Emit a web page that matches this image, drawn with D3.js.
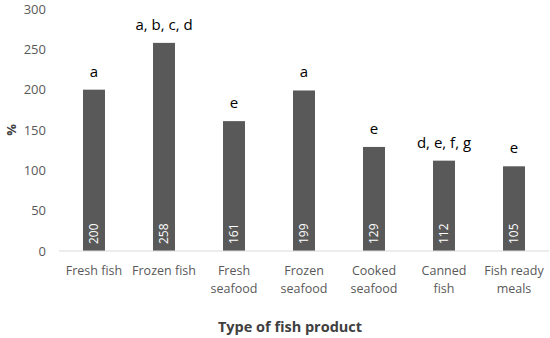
<!DOCTYPE html>
<html>
<head>
<meta charset="utf-8">
<script src="https://cdn.jsdelivr.net/npm/d3@7"></script>
<style>
  body { margin: 0; background: #fff; }
  text { font-family: "Open Sans", "Liberation Sans", sans-serif; }
</style>
</head>
<body>
<div id="graph"></div>
<script>
var categories = [
  ['Fresh fish'],
  ['Frozen fish'],
  ['Fresh', 'seafood'],
  ['Frozen', 'seafood'],
  ['Cooked', 'seafood'],
  ['Canned', 'fish'],
  ['Fish ready', 'meals']
]
var values = [200, 258, 161, 199, 129, 112, 105]
var letters = ['a', 'a, b, c, d', 'e', 'a', 'e', 'd, e, f, g', 'e']
var yTicks = [0, 50, 100, 150, 200, 250, 300]

var width = 550, height = 338

var svg = d3.select('#graph').append('svg')
    .attr('width', width)
    .attr('height', height)

var x = d3.scaleBand()
    .domain(d3.range(values.length))
    .range([59, 549])
    .paddingInner(0.686)
    .paddingOuter(0.343)

var y = d3.scaleLinear()
    .domain([0, 300])
    .range([251, 9])

// no gridlines, just tick labels
svg.append('g').selectAll('text')
    .data(yTicks)
  .join('text')
    .attr('x', 46)
    .attr('y', y)
    .attr('dy', '0.35em')
    .attr('text-anchor', 'end')
    .attr('fill', '#595959')
    .style('font-size', '13px')
    .text(function(d){ return d })

svg.append('text')
    .attr('transform', 'translate(16,' + y(150) + ') rotate(-90)')
    .attr('text-anchor', 'middle')
    .attr('fill', '#404040')
    .style('font-size', '13px')
    .style('font-weight', 'bold')
    .text('%')

var bars = svg.append('g').selectAll('g')
    .data(values)
  .join('g')

bars.append('rect')
    .attr('x', function(d, i){ return x(i) })
    .attr('width', x.bandwidth())
    .attr('y', y)
    .attr('height', function(d){ return y(0) - y(d) })
    .attr('fill', '#595959')

bars.append('text')
    .attr('transform', function(d, i){
      return 'translate(' + (x(i) + x.bandwidth() / 2) + ',' + (y(0) - 7) + ') rotate(-90)'
    })
    .attr('dy', '0.35em')
    .attr('fill', '#fff')
    .style('font-size', '12px')
    .text(function(d){ return d })

bars.append('text')
    .attr('x', function(d, i){ return x(i) + x.bandwidth() / 2 })
    .attr('y', function(d){ return y(d) - 13 })
    .attr('text-anchor', 'middle')
    .attr('fill', '#000')
    .style('font-size', '15px')
    .text(function(d, i){ return letters[i] })

svg.append('line')
    .attr('x1', 59).attr('x2', 549)
    .attr('y1', y(0)).attr('y2', y(0))
    .attr('stroke', '#d9d9d9')

svg.append('g').selectAll('text')
    .data(categories)
  .join('text')
    .attr('x', function(d, i){ return x(i) + x.bandwidth() / 2 })
    .attr('y', 275)
    .attr('text-anchor', 'middle')
    .attr('fill', '#595959')
    .style('font-size', '12.5px')
    .selectAll('tspan')
    .data(function(d){ return d })
  .join('tspan')
    .attr('x', function(){ return this.parentNode.getAttribute('x') })
    .attr('dy', function(d, i){ return i ? 18 : 0 })
    .text(function(d){ return d })

svg.append('text')
    .attr('x', 290)
    .attr('y', 332)
    .attr('text-anchor', 'middle')
    .attr('fill', '#404040')
    .style('font-size', '14.5px')
    .style('font-weight', 'bold')
    .text('Type of fish product')
</script>
</body>
</html>
